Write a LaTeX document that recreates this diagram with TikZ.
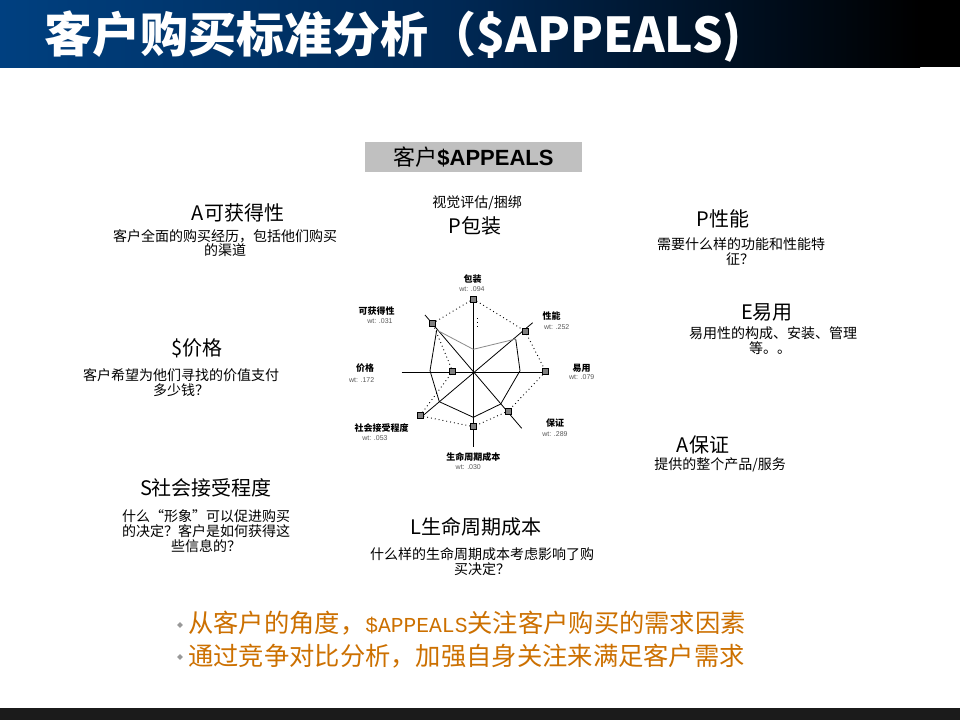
\documentclass[tikz,border=0pt]{standalone}
\usepackage{fontspec}
\setmainfont{Liberation Sans}
\newfontfamily\cjk{Noto Sans CJK SC}
\newfontfamily\mono{Liberation Mono}
\usetikzlibrary{shapes.geometric}
\definecolor{hdrblue}{RGB}{0,64,128}
\definecolor{hdrmid}{RGB}{0,40,84}
\definecolor{bulc}{RGB}{204,112,0}
\definecolor{boxgray}{RGB}{192,192,192}
\definecolor{footc}{RGB}{27,27,27}
\definecolor{mkgray}{RGB}{128,128,128}
\begin{document}
\begin{tikzpicture}[x=1pt,y=-1pt,
  hd/.style={inner sep=0, font=\cjk\fontsize{20}{22}\selectfont},
  ds/.style={inner sep=0, font=\cjk\fontsize{14}{15}\selectfont},
  cl/.style={inner sep=0, font=\cjk\bfseries\fontsize{9}{10}\selectfont},
  wl/.style={inner sep=0, text=black!65, font=\fontsize{7}{8}\selectfont},
  msq/.style={rectangle, draw=black, line width=0.5pt, fill=mkgray, minimum size=6pt, inner sep=0},
  ax/.style={line width=0.8pt},
  dt/.style={line width=0.9pt, dash pattern=on 0.9pt off 3pt},
  bt/.style={inner sep=0, anchor=west, text=bulc, font=\cjk\fontsize{25.3}{27}\selectfont},
  bd/.style={diamond, fill=mkgray!80, minimum size=6pt, inner sep=0}]
\useasboundingbox (0,0) rectangle (960,720);
\fill[white] (0,0) rectangle (960,720);
% header
\shade[left color=hdrblue, right color=black, middle color=hdrmid] (0,0) rectangle (920,67);
\fill[black] (919.5,0) rectangle (960,67);
\node[anchor=west, inner sep=0, text=white, font=\cjk\bfseries\fontsize{48}{48}\selectfont] (title) at (44,37) {客户购买标准分析（\$APPEALS)};
% footer
\fill[footc] (0,708) rectangle (960,720);
% box title
\node[fill=boxgray, minimum width=217pt, minimum height=30pt, inner sep=0] (boxT) at (473.5,157) {};
\node[inner sep=0] (boxtxt) at (473.5,157) {{\cjk\fontsize{22}{24}\selectfont 客户}{\bfseries\fontsize{22}{24}\selectfont\$APPEALS}};
% headings and descriptions
\node[ds] (dP0) at (477,203) {视觉评估/捆绑};
\node[hd] (hP) at (475,226) {P包装};
\node[hd] (hA1) at (238,213) {A可获得性};
\node[ds] (dA1a) at (225,236) {客户全面的购买经历，包括他们购买};
\node[ds] (dA1b) at (225,250) {的渠道};
\node[hd] (hP2) at (723,219) {P性能};
\node[ds] (dP2a) at (741,244) {需要什么样的功能和性能特};
\node[ds] (dP2b) at (740,259) {征？};
\node[hd] (hE) at (767,312) {E易用};
\node[ds] (dEa) at (773,333) {易用性的构成、安装、管理};
\node[ds] (dEb) at (770,348) {等。。};
\node[hd] (hS) at (197,348) {\$价格};
\node[ds] (dSa) at (181,375) {客户希望为他们寻找的价值支付};
\node[ds] (dSb) at (181,390) {多少钱？};
\node[hd] (hA2) at (703,445) {A保证};
\node[ds] (dA2) at (720,465) {提供的整个产品/服务};
\node[hd] (hS2) at (206,488) {S社会接受程度};
\node[ds] (dS2a) at (206,516) {什么“形象”可以促进购买};
\node[ds] (dS2b) at (206,531) {的决定？客户是如何获得这};
\node[ds] (dS2c) at (206,546) {些信息的？};
\node[hd] (hL) at (476,527) {L生命周期成本};
\node[ds] (dLa) at (482,554) {什么样的生命周期成本考虑影响了购};
\node[ds] (dLb) at (482,569) {买决定？};
% radar chart axes
\draw[ax] (473.3,299) -- (473.3,447);
\draw[ax] (401.7,372.5) -- (545.7,372.5);
\draw[ax] (425,315) -- (521.7,428.3);
\draw[ax] (532.7,322.7) -- (421.7,416.7);
% solid series
\coordinate (s1) at (436.7,330);
\coordinate (s2) at (430,370.7);
\coordinate (s3) at (439.3,401.7);
\coordinate (s4) at (473.3,417.3);
\coordinate (s5) at (500.7,404);
\coordinate (s6) at (520,370.7);
\coordinate (s7) at (515.7,339);
\coordinate (s8) at (473.3,349.3);
\draw[line width=0.8pt] (s1) -- (s2) -- (s3) -- (s4) -- (s5) -- (s6) -- (s7);
\draw[line width=0.8pt, black!45] (s1) -- (s8) -- (s7);
% markers
\node[msq] (mT) at (473.3,299) {};
\node[msq] (mUR) at (525,331) {};
\node[msq] (mR) at (545.7,371.5) {};
\node[msq] (mLR) at (508.3,411) {};
\node[msq] (mB) at (473.3,426.7) {};
\node[msq] (mLL) at (420,415.7) {};
\node[msq] (mL) at (452.7,371.5) {};
\node[msq] (mUL) at (432.7,323.3) {};
\draw[dt] (mT) -- (mUR) -- (mR) -- (mLR) -- (mB) -- (mLL) -- (mL) -- (mUL) -- (mT);
\draw[dt] (477,318) -- (477,326);
% chart labels
\node[cl] (lT) at (472.7,279) {包装};
\node[wl] (wT) at (472,289) {wt: .094};
\node[cl] (lUR) at (551.7,316) {性能};
\node[wl] (wUR) at (556.7,326.7) {wt: .252};
\node[cl] (lR) at (581.7,368) {易用};
\node[wl] (wR) at (581.7,377.5) {wt: .079};
\node[cl] (lLR) at (555,423.3) {保证};
\node[wl] (wLR) at (555,434) {wt: .289};
\node[cl] (lB) at (473.3,457.3) {生命周期成本};
\node[wl] (wB) at (468.3,467.5) {wt: .030};
\node[cl] (lLL) at (381.7,427.7) {社会接受程度};
\node[wl] (wLL) at (375,438.3) {wt: .053};
\node[cl] (lL) at (365,368.3) {价格};
\node[wl] (wL) at (361.7,380) {wt: .172};
\node[cl] (lUL) at (376.7,310.7) {可获得性};
\node[wl] (wUL) at (380,321) {wt: .031};
% bullets
\node[bd] (b1) at (180,625) {};
\node[bt] (t1) at (188,623) {从客户的角度，{\mono\fontsize{21.3}{27}\selectfont\$APPEALS}关注客户购买的需求因素};
\node[bd] (b2) at (180,657) {};
\node[bt] (t2) at (188,656) {通过竞争对比分析，加强自身关注来满足客户需求};
\end{tikzpicture}
\end{document}
